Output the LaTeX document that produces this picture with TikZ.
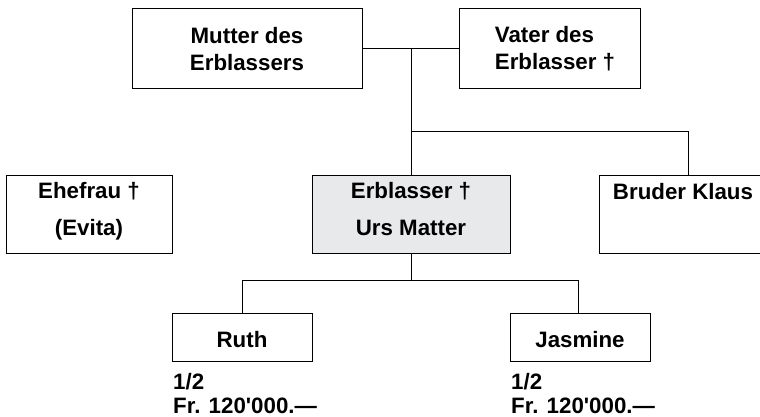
\documentclass[tikz,border=0pt]{standalone}
\usepackage{fontspec}
\setmainfont{Liberation Sans}
\definecolor{deceasedfill}{RGB}{232,233,235}
\tikzset{
  box/.style={draw=black, line width=1pt, inner sep=0pt},
  link/.style={draw=black, line width=1pt},
  lbl/.style={font=\bfseries\fontsize{22.3}{27}\selectfont, align=center, inner sep=0pt},
  lblwide/.style={font=\bfseries\fontsize{22.3}{37}\selectfont, align=center, inner sep=0pt},
  share/.style={font=\bfseries\fontsize{22.3}{24}\selectfont, align=left, inner sep=0pt, anchor=north west},
}
\begin{document}
\begin{tikzpicture}[x=1pt,y=-1pt]
\useasboundingbox (0,0) rectangle (760,417);

% family boxes
\node[box, minimum width=230pt, minimum height=80pt] (mutter) at (247,49) {};
\node[box, minimum width=181pt, minimum height=80pt] (vater) at (549.5,49) {};
\node[box, minimum width=166pt, minimum height=78pt] (ehefrau) at (89,214) {};
\node[box, fill=deceasedfill, minimum width=198pt, minimum height=78pt] (erblasser) at (411,214) {};
\node[box, minimum width=161pt, minimum height=78pt] (bruder) at (679.5,214) {};
\node[box, minimum width=140pt, minimum height=48pt] (ruth) at (242,337) {};
\node[box, minimum width=140pt, minimum height=48pt] (jasmine) at (580,337) {};

% box texts
\node[lbl] (mutterT) at (247,49) {Mutter des\\Erblassers};
\node[lbl, align=left] (vaterT) at (555,49) {Vater des\\Erblasser †};
\node[lblwide] (ehefrauT) at (89,211) {Ehefrau †\\(Evita)};
\node[lblwide] (erblasserT) at (411,209) {Erblasser †\\Urs Matter};
\node[lbl, anchor=base] (bruderT) at (683,199) {Bruder Klaus};
\node[lbl, anchor=base] (ruthT) at (242,347) {Ruth};
\node[lbl, anchor=base] (jasmineT) at (580,347) {Jasmine};

% shares of the estate
\node[share] (ruthShare) at (173,373) {1/2\\Fr. 120\textquotesingle000.—};
\node[share] (jasmineShare) at (511,373) {1/2\\Fr. 120\textquotesingle000.—};

% junction points
\coordinate (parents) at (411,49);
\coordinate (sibl) at (411,132);
\coordinate (sibr) at (688,132);
\coordinate (kids) at (411,280);
\coordinate (kidl) at (242,280);
\coordinate (kidr) at (578,280);

% connectors
\draw[link] (mutter.east) -- (vater.west);
\draw[link] (parents) -- (erblasser.north);
\draw[link] (sibl) -- (sibr) -- (sibr |- bruder.north);
\draw[link] (erblasser.south) -- (kids);
\draw[link] (kidl) -- (kidr);
\draw[link] (kidl) -- (ruth.north);
\draw[link] (kidr) -- (kidr |- jasmine.north);
\end{tikzpicture}
\end{document}
